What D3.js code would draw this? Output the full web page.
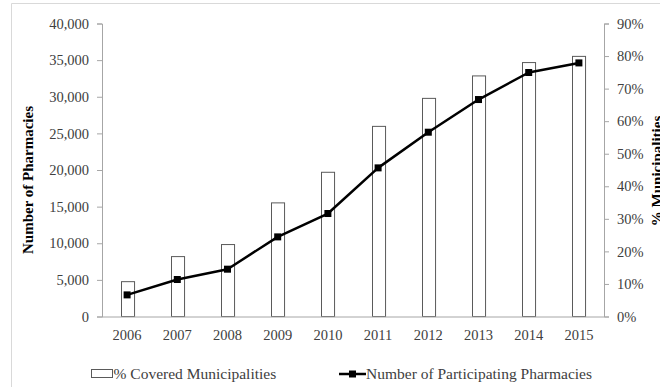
<!DOCTYPE html>
<html>
<head>
<meta charset="utf-8">
<script src="https://cdn.jsdelivr.net/npm/d3@7/dist/d3.min.js"></script>
<style>
  html, body { margin: 0; padding: 0; background: #fff; }
  svg { display: block; }
  text { font-family: "Liberation Serif", "Times New Roman", serif; }
</style>
</head>
<body>
<svg id="chart" width="660" height="387"></svg>
<script>
// Participation by year
const years = ["2006", "2007", "2008", "2009", "2010", "2011", "2012", "2013", "2014", "2015"];
// Share of municipalities covered (right axis)
const coveredShare = [0.107, 0.184, 0.221, 0.349, 0.443, 0.584, 0.670, 0.739, 0.780, 0.799];
// Number of participating pharmacies (left axis)
const pharmacies = [2950, 5050, 6460, 10870, 14060, 20290, 25160, 29620, 33310, 34620];
const leftTicks = [0, 5000, 10000, 15000, 20000, 25000, 30000, 35000, 40000];
const rightTicks = [0, 0.1, 0.2, 0.3, 0.4, 0.5, 0.6, 0.7, 0.8, 0.9];

const svg = d3.select("#chart");
const m = { left: 102, right: 604, top: 23.5, bottom: 316.5 };

// outer frame
svg.append("path")
  .attr("d", `M11.5,387 V3.5 H660`)
  .attr("fill", "none").attr("stroke", "#d9d9d9").attr("stroke-width", 1);

const x = d3.scaleBand().domain(years).range([m.left, m.right]).paddingInner(0).paddingOuter(0);
const yL = d3.scaleLinear().domain([0, 40000]).range([m.bottom, m.top]);
const yR = d3.scaleLinear().domain([0, 0.9]).range([m.bottom, m.top]);

const axisColor = "#a6a6a6";
const textColor = "#404040";

// bars: covered municipalities
const barW = x.bandwidth() * 0.26;
svg.append("g").selectAll("rect").data(years).join("rect")
  .attr("x", d => Math.round(x(d) + x.bandwidth() / 2 - barW / 2) + 0.5)
  .attr("y", (d, i) => yR(coveredShare[i]))
  .attr("width", barW)
  .attr("height", (d, i) => m.bottom - yR(coveredShare[i]))
  .attr("fill", "#fff")
  .attr("stroke", "#5a5a5a")
  .attr("stroke-width", 1);

// left axis
const gL = svg.append("g").attr("transform", `translate(${m.left},0)`)
  .call(d3.axisLeft(yL).tickValues(leftTicks).tickSize(5).tickPadding(8)
    .tickFormat(d3.format(",")));
// right axis
const gR = svg.append("g").attr("transform", `translate(${m.right},0)`)
  .call(d3.axisRight(yR).tickValues(rightTicks).tickSize(5).tickPadding(8)
    .tickFormat(d3.format(".0%")));
// bottom axis
const gB = svg.append("g").attr("transform", `translate(0,${m.bottom})`)
  .call(d3.axisBottom(x).tickSize(0).tickPadding(13));

[gL, gR, gB].forEach(g => {
  g.select(".domain").attr("stroke", axisColor);
  g.selectAll(".tick line").attr("stroke", axisColor);
  g.selectAll(".tick text").attr("fill", textColor)
    .style("font-family", "'Liberation Serif', serif").style("font-size", "14.5px");
});
gB.select(".domain").attr("d", `M${m.left},0.5H${m.right}`);

// pharmacies line
const line = d3.line()
  .x((d, i) => x(years[i]) + x.bandwidth() / 2)
  .y(d => yL(d));
svg.append("path").datum(pharmacies)
  .attr("d", line).attr("fill", "none")
  .attr("stroke", "#000").attr("stroke-width", 2.5).attr("stroke-linejoin", "round");
svg.append("g").selectAll("rect").data(pharmacies).join("rect")
  .attr("x", (d, i) => x(years[i]) + x.bandwidth() / 2 - 3.5)
  .attr("y", d => yL(d) - 3.5)
  .attr("width", 7).attr("height", 7).attr("fill", "#000");

// axis titles
svg.append("text")
  .attr("transform", `translate(33,180) rotate(-90)`)
  .attr("text-anchor", "middle")
  .style("font-size", "15px").style("font-weight", "bold").attr("fill", "#000")
  .text("Number of Pharmacies");
svg.append("text")
  .attr("transform", `translate(662,171) rotate(-90)`)
  .attr("text-anchor", "middle")
  .style("font-size", "15px").style("font-weight", "bold").attr("fill", "#000")
  .text("% Municipalities");

// legend
const ly = 374;
const lg = svg.append("g");
lg.append("rect").attr("x", 91.5).attr("y", ly - 4.5).attr("width", 21).attr("height", 8)
  .attr("fill", "#fff").attr("stroke", "#5a5a5a");
lg.append("text").attr("x", 113.5).attr("y", ly + 5)
  .style("font-size", "15.5px").attr("fill", textColor)
  .text("% Covered Municipalities");
lg.append("line").attr("x1", 339).attr("x2", 366).attr("y1", ly).attr("y2", ly)
  .attr("stroke", "#000").attr("stroke-width", 2.5);
lg.append("rect").attr("x", 349).attr("y", ly - 3.5).attr("width", 7).attr("height", 7).attr("fill", "#000");
lg.append("text").attr("x", 366).attr("y", ly + 5)
  .style("font-size", "15.5px").attr("fill", textColor)
  .text("Number of Participating Pharmacies");
</script>
</body>
</html>
